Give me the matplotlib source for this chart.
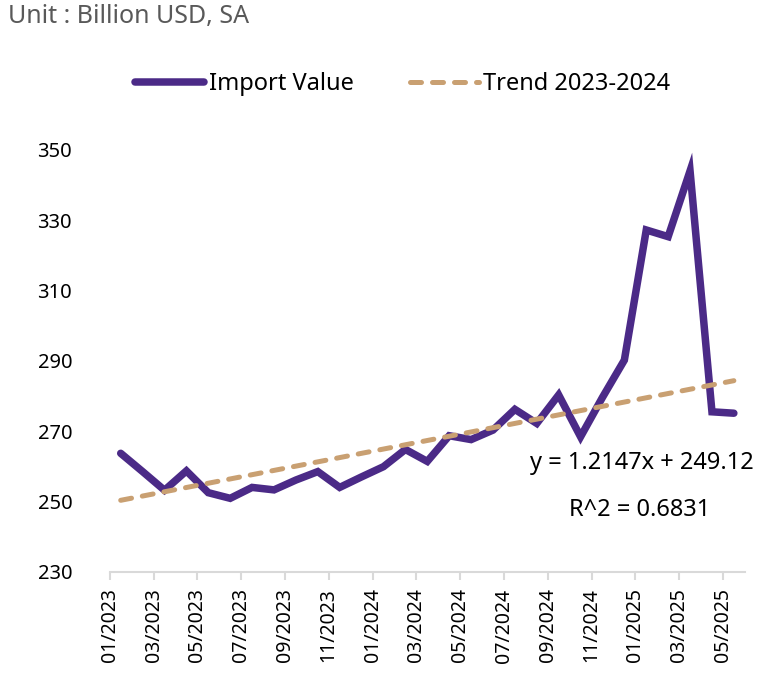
import matplotlib.pyplot as plt
import numpy as np

months = ["01/2023", "02/2023", "03/2023", "04/2023", "05/2023", "06/2023",
          "07/2023", "08/2023", "09/2023", "10/2023", "11/2023", "12/2023",
          "01/2024", "02/2024", "03/2024", "04/2024", "05/2024", "06/2024",
          "07/2024", "08/2024", "09/2024", "10/2024", "11/2024", "12/2024",
          "01/2025", "02/2025", "03/2025", "04/2025", "05/2025"]
import_value = [263.7, 258.5, 253.2, 258.7, 252.5, 250.9, 254.0, 253.3, 256.1, 258.5,
                254.0, 257.0, 259.9, 264.8, 261.4, 268.7, 267.6, 270.3, 276.2, 272.2,
                280.3, 268.4, 279.6, 290.2, 327.2, 325.3, 344.0, 275.5, 275.1]
trend_slope = 1.2147
trend_intercept = 249.12
r_squared = 0.6831

purple = "#4B2A87"
tan = "#C9A072"

plt.rcParams['font.family'] = ['Noto Sans', 'DejaVu Sans']

fig = plt.figure(figsize=(7.84, 6.84), dpi=100)
ax = fig.add_axes([0.140, 0.164, 0.810, 0.617])

X = np.arange(len(months))
trend = trend_slope * (X + 1) + trend_intercept

l1, = ax.plot(X, import_value, color=purple, lw=5.4, solid_capstyle='round',
              solid_joinstyle='miter', label='Import Value')
l2, = ax.plot(X, trend, color=tan, lw=3.6, dashes=(2.2, 2.2), dash_capstyle='round',
              label='Trend 2023-2024')

ax.set_ylim(230, 350)
ax.set_yticks(np.arange(230, 351, 20))
ax.set_xlim(-0.5, len(months) - 0.5)
ax.set_xticks(X[::2] - 0.5)
ax.set_xticklabels(months[::2], rotation=90)

for s in ['top', 'right', 'left']:
    ax.spines[s].set_visible(False)
ax.spines['bottom'].set_color('#d9d9d9')
ax.spines['bottom'].set_linewidth(1.5)
ax.tick_params(axis='y', length=0, labelsize=14.5, pad=52, colors='#000000')
ax.tick_params(axis='x', length=6, width=1.5, color='#d9d9d9', labelsize=14, pad=6)
for lab in ax.get_yticklabels():
    lab.set_horizontalalignment('left')

ax.text(0.838, 0.258, "y = 1.2147x + 249.12", transform=ax.transAxes,
        ha='center', va='center', fontsize=17)
ax.text(0.835, 0.147, "R^2 = %.4f" % r_squared, transform=ax.transAxes,
        ha='center', va='center', fontsize=17)

fig.text(0.01, 0.976, "Unit : Billion USD, SA", color='#595959', fontsize=18,
         ha='left', va='center')

fig.legend(handles=[l1, l2], loc='center', bbox_to_anchor=(0.514, 0.877), ncol=2,
           frameon=False, handlelength=2.9, handletextpad=0.2, columnspacing=2.4,
           prop={'size': 17})

fig.savefig("out.png", dpi=100)
